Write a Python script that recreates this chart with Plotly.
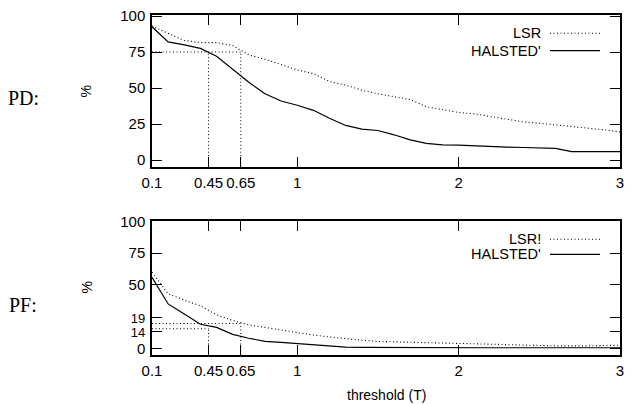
import plotly.graph_objects as go

W, H = 635, 404

# ---------------- data ----------------
threshold = [0.1, 0.2, 0.3, 0.4, 0.5, 0.6, 0.7, 0.8, 0.9, 1.0,
             1.1, 1.2, 1.3, 1.4, 1.5, 1.6, 1.7, 1.8, 1.9, 2.0,
             2.1, 2.2, 2.3, 2.4, 2.5, 2.6, 2.7, 2.8, 2.9, 3.0]

pd_lsr = [93, 88, 83, 81.5, 81.5, 79.5, 73, 70, 66, 62.5,
          60, 54.5, 52, 48.5, 46, 44, 42, 37, 35, 33,
          32, 30, 28, 26.5, 25.5, 24.5, 23.5, 22.5, 21, 19.5]
pd_halsted = [92.5, 82, 80, 77.5, 72, 63, 54, 46, 41, 38,
              34.5, 29, 24, 21.5, 20.5, 17.5, 14, 11.5, 10.5, 10.4,
              9.8, 9.2, 9.0, 8.7, 8.4, 8.1, 5.8, 5.8, 5.8, 5.8]

pf_threshold = [0.1, 0.15, 0.2, 0.3, 0.4, 0.5, 0.6, 0.7, 0.8, 0.9, 1.0,
                1.1, 1.2, 1.3, 1.4, 1.5, 1.6, 1.7, 1.8, 1.9, 2.0,
                2.2, 2.4, 2.6, 2.8, 3.0]
pf_lsr = [60, 51, 43, 38, 33.5, 26.5, 22, 18.5, 16.5, 14.5, 12,
          10.5, 9, 7.5, 6.5, 5.5, 5, 4.8, 4.5, 4.2, 4,
          3.3, 2.6, 2, 2, 2.5]
pf_halsted = [56, 45, 35, 27, 19, 16.5, 11, 8, 5.5, 4.8, 3.8,
              2.8, 1.8, 1.0, 0.8, 0.7, 0.6, 0.6, 0.5, 0.5, 0.5,
              0.5, 0.5, 0.5, 0.5, 0.5]

# guide lines (threshold where curves cross the marked levels)
t_halsted, t_lsr = 0.45, 0.65
pd_level = 75
pf_level_lsr, pf_level_halsted = 19.6, 15.5

x_tickvals = [0.1, 0.45, 0.65, 1, 2, 3]
x_ticktext = ["0.1", "0.45", "0.65", "1", "2", "3"]
pd_tickvals = [0, 25, 50, 75, 100]
pd_ticktext = ["0", "25", "50", "75", "100"]
pf_tickvals = [0, 13.3, 24.5, 50, 75, 100]
pf_ticktext = ["0", "<span style='font-size:13px'>14</span>",
               "<span style='font-size:13px'>19</span>", "50", "75", "100"]

legend_top = ["LSR", "HALSTED'"]
legend_bot = ["LSR!", "HALSTED'"]

# ---------------- layout geometry ----------------
XL, XR = 152, 620
T1, B1 = 15, 166.7
T2, B2 = 221, 355
PD_RANGE = [-4.65, 100.7]
PF_RANGE = [-5.2, 100.3]

def px(x):
    return x / W

def py(y):
    return 1 - y / H

FONT = "Liberation Sans, Arial, sans-serif"
DOT = "1px,2.5px"

fig = go.Figure()

def line(xs, ys, xa, ya, dash=None, width=1.2):
    d = dict(color="black", width=width)
    if dash:
        d["dash"] = dash
    fig.add_trace(go.Scatter(x=xs, y=ys, mode="lines", line=d,
                             xaxis=xa, yaxis=ya, showlegend=False, hoverinfo="skip"))

# top: PD
line(threshold, pd_lsr, "x", "y", DOT, 1.1)
line(threshold, pd_halsted, "x", "y")
line([threshold[0], t_lsr], [pd_level, pd_level], "x", "y", DOT, 1)
line([t_halsted, t_halsted], [PD_RANGE[0], pd_level], "x", "y", DOT, 1)
line([t_lsr, t_lsr], [PD_RANGE[0], pd_level], "x", "y", DOT, 1)

# bottom: PF
line(pf_threshold, pf_lsr, "x2", "y2", DOT, 1.1)
line(pf_threshold, pf_halsted, "x2", "y2")
line([pf_threshold[0], t_lsr], [pf_level_lsr, pf_level_lsr], "x2", "y2", DOT, 1)
line([pf_threshold[0], t_halsted], [pf_level_halsted, pf_level_halsted], "x2", "y2", DOT, 1)
line([t_halsted, t_halsted], [PF_RANGE[0], pf_level_halsted], "x2", "y2", DOT, 1)
line([t_lsr, t_lsr], [PF_RANGE[0], pf_level_lsr], "x2", "y2", DOT, 1)

axis_common = dict(showline=True, linecolor="black", linewidth=1.5, mirror="allticks",
                   ticks="inside", ticklen=10, tickwidth=1.3, tickcolor="black",
                   showgrid=False, zeroline=False, automargin=False,
                   tickfont=dict(family=FONT, size=15, color="black"))

fig.update_layout(
    width=W, height=H,
    margin=dict(l=0, r=0, t=0, b=0, autoexpand=False),
    paper_bgcolor="white", plot_bgcolor="white",
    xaxis=dict(domain=[px(XL), px(XR)], anchor="y", range=[0.1, 3],
               tickvals=x_tickvals, ticktext=x_ticktext, ticklabelstandoff=2, **axis_common),
    yaxis=dict(domain=[py(B1), py(T1)], anchor="x", range=PD_RANGE,
               tickvals=pd_tickvals, ticktext=pd_ticktext, ticklabelstandoff=2, **axis_common),
    xaxis2=dict(domain=[px(XL), px(XR)], anchor="y2", range=[0.1, 3],
                tickvals=x_tickvals, ticktext=x_ticktext, ticklabelstandoff=1, **axis_common),
    yaxis2=dict(domain=[py(B2), py(T2)], anchor="x2", range=PF_RANGE,
                tickvals=pf_tickvals, ticktext=pf_ticktext, ticklabelstandoff=2, **axis_common),
)

annotations = []
shapes = []
# panel labels
for txt, yc in (("PD:", 98), ("PF:", 305)):
    annotations.append(dict(text=txt, x=px(23), y=py(yc), xref="paper", yref="paper",
                            showarrow=False, xanchor="center", yanchor="middle",
                            font=dict(family="Liberation Serif, Times New Roman, serif", size=20, color="black")))
# axis titles
for yc in (91.5, 287.5):
    annotations.append(dict(text="%", x=px(86), y=py(yc), xref="paper", yref="paper",
                            showarrow=False, xanchor="center", yanchor="middle", textangle=-90,
                            font=dict(family=FONT, size=14, color="black")))
annotations.append(dict(text="threshold (T)", x=px(386), y=py(395), xref="paper", yref="paper",
                        showarrow=False, xanchor="center", yanchor="middle",
                        font=dict(family=FONT, size=14, color="black")))
# manual legends
for names, rows in ((legend_top, (33.3, 50.7)), (legend_bot, (239.3, 254.3))):
    for name, yc, dash in zip(names, rows, (DOT, "solid")):
        annotations.append(dict(text=name, x=px(542), y=py(yc), xref="paper", yref="paper",
                                showarrow=False, xanchor="right", yanchor="middle", borderpad=0,
                                font=dict(family=FONT, size=14.5, color="black")))
        shapes.append(dict(type="line", xref="paper", yref="paper",
                           x0=px(550), x1=px(600), y0=py(yc), y1=py(yc),
                           line=dict(color="black", width=1.1 if dash == DOT else 1.2, dash=dash)))

fig.update_layout(annotations=annotations, shapes=shapes)

fig.write_html("out.html", config={"displayModeBar": False},
               post_script="document.body.style.margin='0';document.body.style.overflow='hidden';")
